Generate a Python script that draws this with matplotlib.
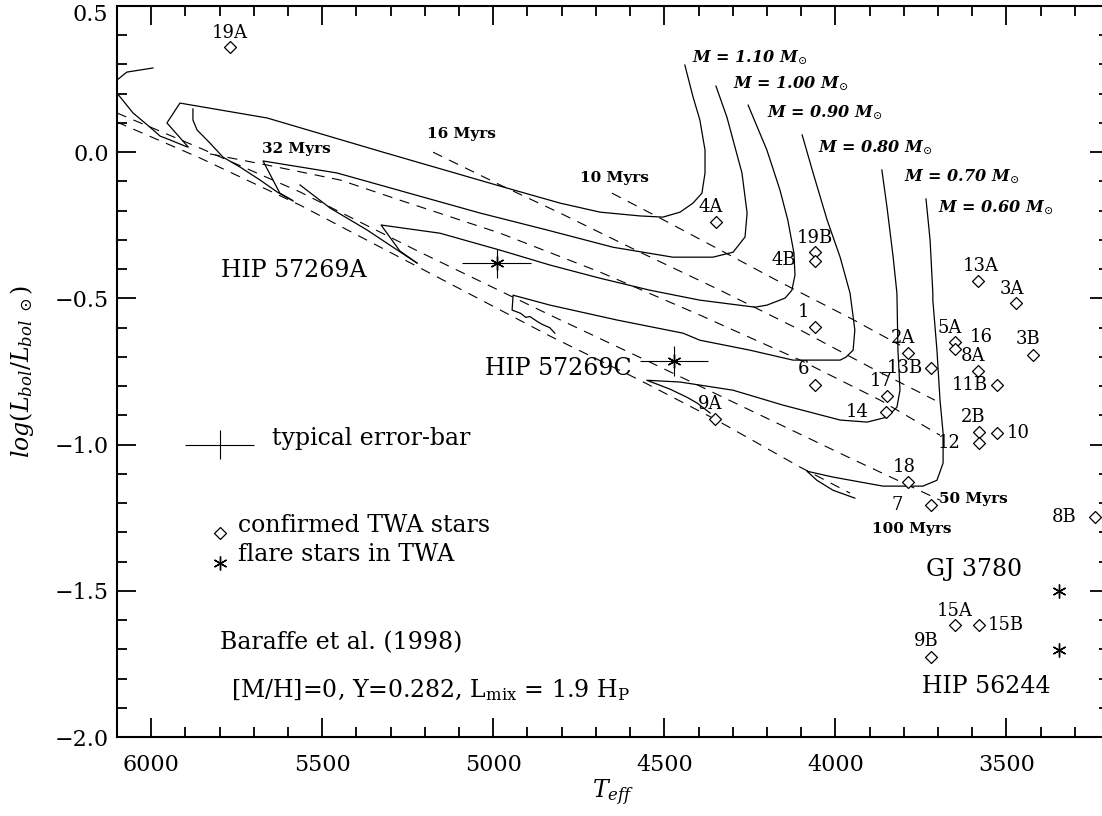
import matplotlib
matplotlib.use('Agg')
import matplotlib.pyplot as plt
from matplotlib.path import Path
from matplotlib.ticker import MultipleLocator, FuncFormatter

plt.rcParams['font.family'] = ['DejaVu Serif']
plt.rcParams['mathtext.fontset'] = 'dejavuserif'

# confirmed TWA members
star_names = ['19A', '4A', '19B', '4B', '13A', '3A', '1', '2A', '5A', '16', '3B', '13B',
              '8A', '11B', '6', '17', '14', '9A', '2B', '12', '10', '18', '7', '8B',
              '15A', '15B', '9B']
star_teff = [5770, 4349, 4060, 4060, 3582, 3472, 4060, 3787, 3651, 3651, 3422, 3721,
             3582, 3527, 4060, 3850, 3852, 4352, 3580, 3580, 3526, 3787, 3721, 3241,
             3651, 3580, 3721]
star_logl = [0.361, -0.238, -0.341, -0.372, -0.441, -0.517, -0.598, -0.686, -0.648, -0.673,
             -0.694, -0.739, -0.748, -0.797, -0.797, -0.833, -0.888, -0.914, -0.956, -0.996,
             -0.961, -1.127, -1.207, -1.248, -1.618, -1.618, -1.728]
# label offsets from the symbol, in pixels (right, down)
label_dx = [0, -5, 0, -31, 2, -4, -11, -5, -5, 27, -5, -26, -5, -27, -11, -5, -29, -5,
            -6, -30, 21, -4, -34, -31, 0, 27, -5]
label_dy = [-14, -15, -14, -1, -15, -14, -15, -15, -14, -12, -16, 0, -15, 0, -16, -15, 0,
            -15, -15, 0, 0, -15, 0, 0, -14, 0, -16]

# flare stars
flare_teff = [3347, 3347]
flare_logl = [-1.501, -1.703]
hip_teff = [4990, 4472]
hip_logl = [-0.380, -0.714]
hip_teff_err = [100, 100]
hip_logl_err = [0.05, 0.05]

# Baraffe et al. (1998) tracks
trk_120_teff = [5995, 6071, 6115, 6100, 6053, 6004, 5974, 5945, 5895]
trk_120_logl = [0.288, 0.274, 0.233, 0.202, 0.134, 0.086, 0.055, 0.042, 0.018]
trk_110_teff = [4440, 4416, 4396, 4381, 4381, 4390, 4416, 4454, 4504, 4571, 4688, 4805,
                4980, 5322, 5661, 5916, 5954, 5892]
trk_110_logl = [0.298, 0.189, 0.110, 0.007, -0.071, -0.140, -0.174, -0.205, -0.222, -0.218,
                -0.205, -0.174, -0.116, 0.000, 0.117, 0.168, 0.100, 0.018]
trk_100_teff = [4349, 4317, 4273, 4258, 4264, 4299, 4358, 4475, 4650, 4843, 5039, 5457,
                5673, 5624, 5588]
trk_100_logl = [0.226, 0.120, -0.071, -0.208, -0.290, -0.342, -0.359, -0.359, -0.325,
                -0.266, -0.208, -0.071, -0.030, -0.140, -0.164]
trk_090_teff = [4255, 4200, 4162, 4139, 4121, 4118, 4127, 4147, 4200, 4235, 4396, 4542,
                4688, 4834, 4980, 5156, 5328, 5273, 5223]
trk_090_logl = [0.161, 0.007, -0.129, -0.232, -0.345, -0.420, -0.472, -0.499, -0.523,
                -0.530, -0.506, -0.472, -0.431, -0.386, -0.335, -0.277, -0.249, -0.338,
                -0.379]
trk_080_teff = [4097, 4065, 4024, 3986, 3957, 3943, 3948, 3969, 3986, 4124, 4250, 4396,
                4445, 4638, 4834, 4942, 4945, 4920, 4905, 4893, 4870, 4855, 4835, 4820]
trk_080_logl = [0.059, -0.071, -0.232, -0.359, -0.482, -0.608, -0.677, -0.701, -0.711,
                -0.711, -0.677, -0.643, -0.619, -0.574, -0.523, -0.489, -0.540, -0.551,
                -0.565, -0.562, -0.580, -0.590, -0.600, -0.619]
trk_070_teff = [3864, 3849, 3831, 3820, 3817, 3811, 3820, 3849, 3907, 3986, 4153, 4299,
                4454, 4551, 4484, 4434, 4404, 4366]
trk_070_logl = [-0.061, -0.188, -0.359, -0.482, -0.677, -0.814, -0.872, -0.906, -0.923,
                -0.916, -0.865, -0.814, -0.786, -0.780, -0.810, -0.838, -0.858, -0.892]
trk_060_teff = [3735, 3723, 3715, 3715, 3703, 3694, 3685, 3685, 3703, 3744, 3861, 4007,
                4083, 4054, 4007, 3943]
trk_060_logl = [-0.160, -0.301, -0.482, -0.506, -0.677, -0.848, -0.961, -1.063, -1.122,
                -1.142, -1.142, -1.111, -1.091, -1.122, -1.156, -1.183]
zams_a_teff = [5878, 5878, 5866, 5828, 5790, 5740, 5682, 5632, 5585]
zams_a_logl = [0.148, 0.110, 0.076, 0.031, -0.017, -0.051, -0.095, -0.136, -0.167]
zams_b_teff = [5565, 5477, 5369, 5293, 5223]
zams_b_logl = [-0.112, -0.191, -0.266, -0.325, -0.379]

# isochrones
iso_10_teff = [4653, 4513, 4352, 4162, 3957, 3811]
iso_10_logl = [-0.140, -0.225, -0.325, -0.444, -0.567, -0.660]
iso_16_teff = [5176, 4980, 4805, 4571, 4337, 4103, 3899, 3709]
iso_16_logl = [0.000, -0.112, -0.208, -0.342, -0.472, -0.608, -0.735, -0.848]
iso_32_teff = [5828, 5661, 5448, 5273, 4980, 4688, 4396, 4103, 3869, 3694]
iso_32_logl = [-0.006, -0.044, -0.095, -0.164, -0.277, -0.410, -0.557, -0.711, -0.848, -0.968]
iso_50_teff = [6100, 5857, 5565, 5214, 4834, 4542, 4250, 3957, 3694]
iso_50_logl = [0.134, 0.014, -0.136, -0.342, -0.557, -0.718, -0.882, -1.046, -1.190]
iso_100_teff = [6100, 5857, 5565, 5214, 4834, 4571, 4352, 4103, 3957]
iso_100_logl = [0.103, -0.020, -0.181, -0.396, -0.629, -0.780, -0.913, -1.077, -1.166]

mass_labels = ['1.10', '1.00', '0.90', '0.80', '0.70', '0.60']
mass_lab_teff = [4420, 4300, 4201, 4050, 3799, 3701]
mass_lab_logl = [0.309, 0.218, 0.119, -0.002, -0.101, -0.204]
age_labels = ['32 Myrs', '16 Myrs', '10 Myrs', '50 Myrs', '100 Myrs']
age_lab_teff = [5677, 5195, 4746, 3696, 3894]
age_lab_logl = [-0.002, 0.049, -0.101, -1.201, -1.302]

diamond = Path([(0, 1), (1, 0), (0, -1), (-1, 0), (0, 1)],
               [Path.MOVETO, Path.LINETO, Path.LINETO, Path.LINETO, Path.CLOSEPOLY])

fig = plt.figure(figsize=(11.02, 8.16), dpi=100)
ax = fig.add_axes([117 / 1102, 1 - 737 / 816, 992 / 1102, 731 / 816])

for tx, ty in [(trk_120_teff, trk_120_logl), (trk_110_teff, trk_110_logl),
               (trk_100_teff, trk_100_logl), (trk_090_teff, trk_090_logl),
               (trk_080_teff, trk_080_logl), (trk_070_teff, trk_070_logl),
               (trk_060_teff, trk_060_logl), (zams_a_teff, zams_a_logl),
               (zams_b_teff, zams_b_logl)]:
    ax.plot(tx, ty, color='black', lw=0.9)

for tx, ty in [(iso_10_teff, iso_10_logl), (iso_16_teff, iso_16_logl),
               (iso_32_teff, iso_32_logl), (iso_50_teff, iso_50_logl),
               (iso_100_teff, iso_100_logl)]:
    ax.plot(tx, ty, color='black', lw=0.8, dashes=(9, 7))

ax.plot(star_teff, star_logl, ls='none', marker=diamond, ms=8.6, mfc='white',
        mec='black', mew=0.9, zorder=4)
for name, tx, ty, dx, dy in zip(star_names, star_teff, star_logl, label_dx, label_dy):
    ax.annotate(name, (tx, ty), xytext=(dx * 0.72, -dy * 0.72), textcoords='offset points',
                ha='center', va='center', fontsize=13, zorder=5)

ax.plot(flare_teff, flare_logl, ls='none', marker=(6, 2, 0), ms=10, mec='black', mew=1.0)
ax.errorbar(hip_teff, hip_logl, xerr=hip_teff_err, yerr=hip_logl_err, fmt='none',
            ecolor='black', elinewidth=0.8, capsize=0)
ax.plot(hip_teff, hip_logl, ls='none', marker=(6, 2, 0), ms=10, mec='black', mew=1.0)

# typical error bar and symbol key
ax.errorbar([5800], [-1.0], xerr=[100], yerr=[0.05], fmt='none', ecolor='black',
            elinewidth=0.8, capsize=0)
ax.text(5648, -1.002, 'typical error-bar', fontsize=17)
ax.plot([5800], [-1.302], ls='none', marker=diamond, ms=8.6, mfc='white', mec='black', mew=0.9)
ax.plot([5800], [-1.405], ls='none', marker=(6, 2, 0), ms=10, mec='black', mew=1.0)
ax.text(5747, -1.298, 'confirmed TWA stars', fontsize=17)
ax.text(5747, -1.399, 'flare stars in TWA', fontsize=17)
ax.text(5798, -1.701, 'Baraffe et al. (1998)', fontsize=17)
ax.text(5767, -1.863, r'[M/H]=0, Y=0.282, L$_{\rm mix}$ = 1.9 H$_{\rm P}$', fontsize=17)

ax.text(5797, -0.428, 'HIP 57269A', fontsize=17)
ax.text(5024, -0.762, 'HIP 57269C', fontsize=17)
ax.text(3735, -1.450, 'GJ 3780', fontsize=17)
ax.text(3748, -1.849, 'HIP 56244', fontsize=17)

for lab, tx, ty in zip(mass_labels, mass_lab_teff, mass_lab_logl):
    ax.text(tx, ty, r'M = ' + lab + r' M$_{\odot}$', fontsize=11.5, style='italic',
            weight='bold')
for lab, tx, ty in zip(age_labels, age_lab_teff, age_lab_logl):
    ax.text(tx, ty, lab, fontsize=11, weight='bold')

ax.set_xlim(6100, 3200)
ax.set_ylim(-2.0, 0.5)
ax.xaxis.set_major_locator(MultipleLocator(500))
ax.xaxis.set_minor_locator(MultipleLocator(100))
ax.yaxis.set_major_locator(MultipleLocator(0.5))
ax.yaxis.set_minor_locator(MultipleLocator(0.1))


def ylab(v, p):
    if v > 0.45:
        return ''
    return ('%.1f' % v).replace('-', '\u2212')


ax.yaxis.set_major_formatter(FuncFormatter(ylab))
# the top label sits a little below its tick in the original
ax.text(-9 / 992, 0.469, '0.5', transform=ax.get_yaxis_transform(), ha='right',
        va='center', fontsize=16)
ax.tick_params(which='both', direction='in', top=True, right=True, width=1.3)
ax.tick_params(which='major', length=14)
ax.tick_params(which='minor', length=7)
ax.tick_params(axis='y', labelsize=16, pad=6)
ax.tick_params(axis='x', labelsize=16, pad=12)
for sp in ax.spines.values():
    sp.set_linewidth(1.5)

fig.text(613 / 1102, 1 - 793 / 816, r'$T_{eff}$', fontsize=17, ha='center', va='center')
fig.text(22 / 1102, 1 - 371 / 816, r'$log(L_{bol}/L_{bol\ \odot})$', fontsize=17,
         rotation=90, ha='center', va='center')

fig.savefig('out.png', dpi=100)
